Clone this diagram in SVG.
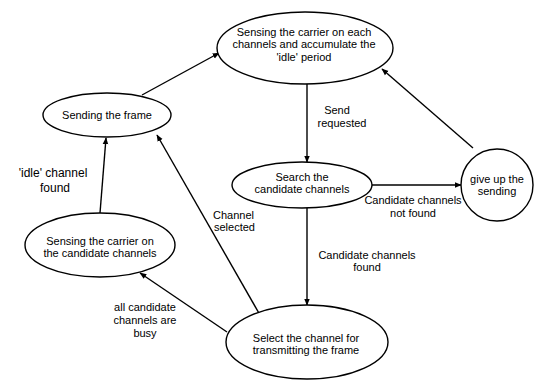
<svg xmlns="http://www.w3.org/2000/svg" width="536" height="380" viewBox="0 0 536 380">
<style>
.n{fill:#fff;stroke:#000;stroke-width:1.4}
.c{fill:none;stroke:#000;stroke-width:1.4;marker-end:url(#a)}
text{font-family:"Liberation Sans",Arial,sans-serif;font-size:11px;fill:#000;text-anchor:middle}
.l{text-anchor:start}
</style>
<defs>
<marker id="a" viewBox="0 0 10 10" refX="9" refY="5" markerWidth="7" markerHeight="7" markerUnits="userSpaceOnUse" orient="auto">
<path d="M0,1 L10,5 L0,9 Z" fill="#000"/>
</marker>
</defs>
<g id="connectors">
<line class="c" x1="142" y1="95" x2="219" y2="53"/>
<line class="c" x1="473" y1="148" x2="382" y2="69"/>
<line class="c" x1="307" y1="84" x2="307" y2="162"/>
<line class="c" x1="372" y1="185" x2="461" y2="185"/>
<line class="c" x1="307" y1="208" x2="307" y2="305"/>
<line class="c" x1="100" y1="213" x2="106" y2="138"/>
<line class="c" x1="260" y1="315" x2="157" y2="135"/>
<line class="c" x1="227" y1="332" x2="140" y2="273"/>
</g>
<g id="labels">
<text x="337" y="114">Send</text>
<text x="342" y="127">requested</text>
<text x="413" y="204">Candidate channels</text>
<text x="413" y="217">not found</text>
<text x="367" y="259">Candidate channels</text>
<text x="367" y="271">found</text>
<text class="l" x="213" y="219">Channel</text>
<text class="l" x="214" y="231">selected</text>
<text x="145" y="311">all candidate</text>
<text x="145" y="324">channels are</text>
<text x="145" y="337">busy</text>
<text x="53" y="177" style="font-size:12px">'idle' channel</text>
<text x="55" y="192" style="font-size:12px">found</text>
</g>
<g id="n1"><ellipse class="n" cx="305" cy="48" rx="88" ry="36"/>
<text x="304" y="36">Sensing the carrier on each</text>
<text x="304" y="48">channels and accumulate the</text>
<text x="304" y="61">'idle' period</text></g>
<g id="n2"><ellipse class="n" cx="107" cy="115" rx="64" ry="22"/>
<text x="107" y="119">Sending the frame</text></g>
<g id="n3"><ellipse class="n" cx="302" cy="185" rx="70" ry="23"/>
<text x="302" y="181">Search the</text>
<text x="302" y="193">candidate channels</text></g>
<g id="n4"><circle class="n" cx="497" cy="185" r="36"/>
<text x="497" y="183">give up the</text>
<text x="497" y="195">sending</text></g>
<g id="n5"><ellipse class="n" cx="100" cy="245" rx="75" ry="32"/>
<text x="100" y="245">Sensing the carrier on</text>
<text x="100" y="257">the candidate channels</text></g>
<g id="n6"><ellipse class="n" cx="307" cy="342" rx="81" ry="37"/>
<text x="306" y="342">Select the channel for</text>
<text x="306" y="354">transmitting the frame</text></g>
</svg>
